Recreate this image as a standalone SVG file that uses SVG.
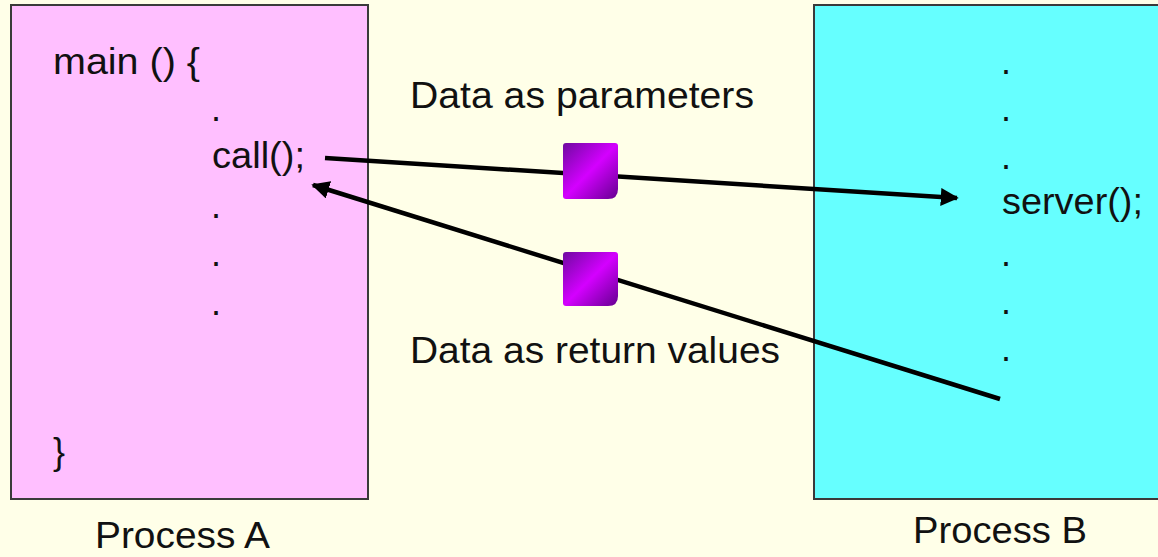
<svg xmlns="http://www.w3.org/2000/svg" width="1158" height="557" viewBox="0 0 1158 557">
<style>
.t{font-family:"Liberation Sans",Arial,sans-serif;font-size:36px;fill:#111}
.box{stroke:#3a3a3a;stroke-width:2}
.conn{stroke:#000;stroke-width:4.5;fill:none}
</style>
<defs>
<linearGradient id="pg" x1="0" y1="0" x2="1" y2="1">
<stop offset="0" stop-color="#6e0aa0"/>
<stop offset="0.5" stop-color="#d400ff"/>
<stop offset="1" stop-color="#650090"/>
</linearGradient>
<marker id="ah" viewBox="0 0 10 10" refX="9" refY="5" markerWidth="4" markerHeight="4" orient="auto" markerUnits="strokeWidth">
<path d="M0,0 L10,5 L0,10 Z" fill="#000"/>
</marker>
</defs>
<rect x="0" y="0" width="1158" height="557" fill="#FFFFE8"/>
<g id="processA">
<rect class="box" x="11" y="5" width="357" height="494" fill="#FFBFFF"/>
<text class="t" x="53" y="74" textLength="147" lengthAdjust="spacingAndGlyphs">main () {</text>
<text class="t" x="211" y="121">.</text>
<text class="t" x="212" y="168" textLength="93" lengthAdjust="spacingAndGlyphs">call();</text>
<text class="t" x="211" y="218">.</text>
<text class="t" x="211" y="266">.</text>
<text class="t" x="211" y="315">.</text>
<text class="t" x="53" y="464">}</text>
<text class="t" x="95" y="548" textLength="175" lengthAdjust="spacingAndGlyphs">Process A</text>
</g>
<g id="processB">
<rect class="box" x="814" y="5" width="350" height="494" fill="#66FFFF"/>
<text class="t" x="1001" y="74">.</text>
<text class="t" x="1001" y="121">.</text>
<text class="t" x="1001" y="169">.</text>
<text class="t" x="1002" y="214" textLength="141" lengthAdjust="spacingAndGlyphs">server();</text>
<text class="t" x="1001" y="266">.</text>
<text class="t" x="1001" y="314">.</text>
<text class="t" x="1001" y="361">.</text>
<text class="t" x="913" y="543" textLength="174" lengthAdjust="spacingAndGlyphs">Process B</text>
</g>
<g id="connectors">
<line class="conn" x1="325" y1="158" x2="957" y2="198" marker-end="url(#ah)"/>
<line class="conn" x1="1000" y1="399" x2="313" y2="185" marker-end="url(#ah)"/>
</g>
<g id="param-label">
<text class="t" x="410" y="108" textLength="344" lengthAdjust="spacingAndGlyphs">Data as parameters</text>
</g>
<g id="param-data">
<path d="M566,143 H615 Q618,143 618,146 V189 Q618,199 608,199 H566 Q563,199 563,196 V146 Q563,143 566,143 Z" fill="url(#pg)"/>
</g>
<g id="return-label">
<text class="t" x="410" y="363" textLength="370" lengthAdjust="spacingAndGlyphs">Data as return values</text>
</g>
<g id="return-data">
<path d="M566,252 H615 Q618,252 618,255 V296 Q618,306 608,306 H566 Q563,306 563,303 V255 Q563,252 566,252 Z" fill="url(#pg)"/>
</g>
</svg>
